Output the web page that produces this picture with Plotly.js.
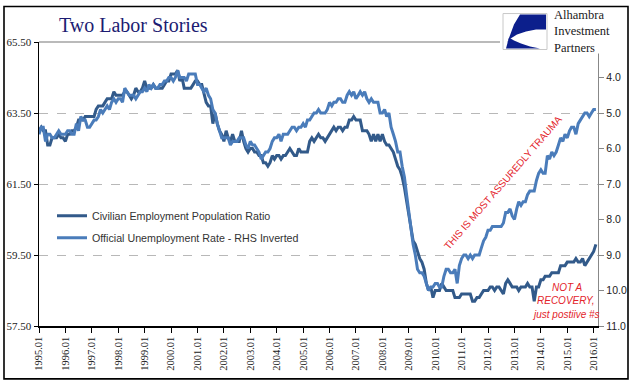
<!DOCTYPE html>
<html>
<head>
<meta charset="utf-8">
<script src="https://cdn.plot.ly/plotly-3.0.1.min.js"></script>
<style>
html,body{margin:0;padding:0;background:#fff;}
#chart{width:641px;height:392px;}
</style>
</head>
<body>
<div id="chart"></div>
<script>
// ---- data (monthly, Jan 1995 .. Feb 2016) ----
const startYear = 1995;
const seriesNames = ["Civilian Employment Population Ratio", "Official Unemployment Rate - RHS Inverted"];

// Civilian employment-population ratio (%), left axis
const empRatio = [
  63.0,63.1,63.0,63.0,62.6,62.6,62.8,62.8,62.8,62.9,62.8,62.8, // 1995
  62.7,62.9,62.9,63.0,63.0,63.1,63.3,63.3,63.3,63.4,63.4,63.4, // 1996
  63.4,63.4,63.6,63.7,63.7,63.7,63.8,63.9,63.9,63.9,64.1,64.0, // 1997
  64.0,64.0,64.0,64.1,64.1,64.0,63.9,64.0,64.2,64.1,64.1,64.2, // 1998
  64.4,64.2,64.2,64.2,64.3,64.2,64.2,64.2,64.2,64.3,64.4,64.4, // 1999
  64.6,64.6,64.6,64.7,64.4,64.5,64.2,64.2,64.2,64.2,64.3,64.4, // 2000
  64.4,64.3,64.3,64.0,63.8,63.7,63.7,63.2,63.5,63.2,63.0,62.9, // 2001
  62.7,63.0,62.8,62.7,62.9,62.7,62.7,62.7,63.0,62.7,62.5,62.4, // 2002
  62.5,62.5,62.4,62.4,62.3,62.3,62.1,62.1,62.0,62.1,62.3,62.2, // 2003
  62.3,62.3,62.2,62.3,62.3,62.4,62.5,62.4,62.3,62.3,62.5,62.4, // 2004
  62.4,62.4,62.4,62.7,62.8,62.7,62.8,62.9,62.8,62.8,62.7,62.8, // 2005
  62.9,63.0,63.1,63.0,63.1,63.1,63.0,63.1,63.1,63.3,63.3,63.4, // 2006
  63.3,63.3,63.3,63.0,63.0,63.0,62.9,62.7,62.9,62.7,62.9,62.7, // 2007
  62.9,62.7,62.6,62.6,62.5,62.4,62.2,62.0,61.9,61.7,61.4,61.0, // 2008
  60.6,60.3,59.9,59.8,59.6,59.4,59.3,59.1,58.7,58.5,58.6,58.3, // 2009
  58.5,58.5,58.5,58.7,58.6,58.5,58.5,58.5,58.5,58.3,58.3,58.3, // 2010
  58.4,58.4,58.4,58.4,58.4,58.2,58.2,58.3,58.3,58.4,58.5,58.5, // 2011
  58.5,58.6,58.6,58.5,58.6,58.6,58.5,58.4,58.7,58.8,58.7,58.6, // 2012
  58.6,58.6,58.5,58.6,58.6,58.6,58.7,58.6,58.6,58.2,58.6,58.6, // 2013
  58.8,58.8,58.9,58.9,58.9,59.0,59.0,59.0,59.0,59.2,59.2,59.2, // 2014
  59.3,59.3,59.3,59.3,59.4,59.3,59.3,59.4,59.2,59.3,59.4,59.5, // 2015
  59.6,59.8                                                    // 2016
];

// Official unemployment rate (%), right axis (inverted)
const unempRate = [
  5.6,5.4,5.4,5.8,5.6,5.6,5.7,5.7,5.6,5.5,5.6,5.6, // 1995
  5.6,5.5,5.5,5.6,5.6,5.3,5.5,5.1,5.2,5.2,5.4,5.4, // 1996
  5.3,5.2,5.2,5.1,4.9,5.0,4.9,4.8,4.9,4.7,4.6,4.7, // 1997
  4.6,4.6,4.7,4.3,4.4,4.5,4.5,4.5,4.6,4.5,4.4,4.4, // 1998
  4.3,4.4,4.2,4.3,4.2,4.3,4.3,4.2,4.2,4.1,4.1,4.0, // 1999
  4.0,4.1,4.0,3.8,4.0,4.0,4.0,4.1,3.9,3.9,3.9,3.9, // 2000
  4.2,4.2,4.3,4.4,4.3,4.5,4.6,4.9,5.0,5.3,5.5,5.7, // 2001
  5.7,5.7,5.7,5.9,5.8,5.8,5.8,5.7,5.7,5.7,5.9,6.0, // 2002
  5.8,5.9,5.9,6.0,6.1,6.3,6.2,6.1,6.1,6.0,5.8,5.7, // 2003
  5.7,5.6,5.8,5.6,5.6,5.6,5.5,5.4,5.4,5.5,5.4,5.4, // 2004
  5.3,5.4,5.2,5.2,5.1,5.0,5.0,4.9,5.0,5.0,5.0,4.9, // 2005
  4.7,4.8,4.7,4.7,4.6,4.6,4.7,4.7,4.5,4.4,4.5,4.4, // 2006
  4.6,4.5,4.4,4.5,4.4,4.6,4.7,4.6,4.7,4.7,4.7,5.0, // 2007
  5.0,4.9,5.1,5.0,5.4,5.6,5.8,6.1,6.1,6.5,6.8,7.3, // 2008
  7.8,8.3,8.7,9.0,9.4,9.5,9.5,9.6,9.8,10.0,9.9,9.9, // 2009
  9.8,9.8,9.9,9.9,9.6,9.4,9.4,9.5,9.5,9.4,9.8,9.3, // 2010
  9.1,9.0,9.0,9.1,9.0,9.1,9.0,9.0,9.0,8.8,8.6,8.5, // 2011
  8.3,8.3,8.2,8.2,8.2,8.2,8.2,8.1,7.8,7.8,7.7,7.9, // 2012
  8.0,7.7,7.5,7.6,7.5,7.5,7.3,7.2,7.2,7.2,6.9,6.7, // 2013
  6.6,6.7,6.7,6.2,6.3,6.1,6.2,6.1,5.9,5.7,5.8,5.6, // 2014
  5.7,5.5,5.4,5.4,5.6,5.3,5.2,5.1,5.0,5.0,5.1,5.0, // 2015
  4.9,4.9                                          // 2016
];

const leftTicks = [57.5, 59.5, 61.5, 63.5, 65.5];
const rightTicks = [4, 5, 6, 7, 8, 9, 10, 11];

const titleText = "Two Labor Stories";
const logoLines = ["Alhambra", "Investment", "Partners"];
const traumaText = "THIS IS MOST ASSUREDLY TRAUMA";
const recoveryLines = ["NOT A", "RECOVERY,", "just postiive #s"];

// month categories
const months = empRatio.map((_, i) => {
  const y = startYear + Math.floor(i / 12);
  const m = (i % 12) + 1;
  return y + "-" + (m < 10 ? "0" + m : m) + "-01";
});

// ---- layout helpers (pixel -> paper) ----
const W = 641, H = 392;
const L = 39, R = 598, T = 41.5, B = 326;
const px = x => (x - L) / (R - L);
const py = y => (B - y) / (B - T);
const P = (pts) => pts.map((p, i) => (i ? "L" : "M") + px(p[0]).toFixed(4) + "," + py(p[1]).toFixed(4)).join(" ") + " Z";

const darkBlue = "#325a8a";
const lightBlue = "#4a7cba";
const red = "#e3242b";
const navy = "#0c1f8c";
const redFont = "Liberation Sans, Arial, sans-serif";

const traces = [
  {
    x: months, y: empRatio, name: seriesNames[0], type: "scatter", mode: "lines",
    line: {color: darkBlue, width: 3}, yaxis: "y", legendgroup: "a"
  },
  {
    x: months, y: unempRate, name: seriesNames[1], type: "scatter", mode: "lines",
    line: {color: lightBlue, width: 3}, yaxis: "y2", legendgroup: "b"
  }
];

const layout = {
  width: W, height: H,
  margin: {l: L, r: W - R, t: T, b: H - B, pad: 0},
  paper_bgcolor: "#fff", plot_bgcolor: "rgba(0,0,0,0)",
  showlegend: true,
  title: {
    text: titleText, xref: "container", yref: "container",
    x: 59 / W, xanchor: "left", y: 1 - 25 / H, yanchor: "middle",
    font: {family: "Liberation Serif, Times New Roman, serif", size: 20, color: "#1c1c72"}
  },
  legend: {
    x: px(52), xanchor: "left", y: py(201), yanchor: "top",
    bgcolor: "rgba(0,0,0,0)", borderwidth: 0, tracegroupgap: 3,
    font: {family: "Liberation Sans, Arial, sans-serif", size: 10.7, color: "#333"}
  },
  xaxis: {
    type: "date", range: ["1995-01-01", "2016-03-01"],
    tick0: "1995-01-01", dtick: "M12", tickformat: "%Y.%m", tickangle: -90,
    ticks: "outside", ticklen: 5, tickcolor: "#000", tickwidth: 1,
    showline: true, linecolor: "#000", linewidth: 1.5,
    showgrid: false, zeroline: false,
    tickfont: {family: "Liberation Serif, Times New Roman, serif", size: 10.5, color: "#222"}
  },
  yaxis: {
    range: [57.5, 65.5], tickvals: leftTicks, tickformat: ".2f",
    ticks: "outside", ticklen: 4, tickcolor: "#000",
    showline: true, linecolor: "#000", linewidth: 1.5,
    showgrid: true, gridcolor: "#b8b8b8", griddash: "dash", gridwidth: 1,
    zeroline: false,
    tickfont: {family: "Liberation Serif, Times New Roman, serif", size: 11, color: "#222"}
  },
  yaxis2: {
    overlaying: "y", side: "right", range: [11, 3], tickvals: rightTicks, tickformat: ".1f",
    ticks: "outside", ticklen: 5, tickcolor: "#888",
    showline: true, linecolor: "#888", linewidth: 1.2,
    showgrid: false, zeroline: false,
    tickfont: {family: "Liberation Sans, Arial, sans-serif", size: 10.5, color: "#222"}
  },
  shapes: [
    // outer frame
    {type: "rect", xref: "paper", yref: "paper", x0: px(4), x1: px(628), y0: py(379), y1: py(6),
      line: {color: "#000", width: 1.6}, fillcolor: "rgba(0,0,0,0)", layer: "above"},
    // solid top line at 65.50
    {type: "line", xref: "paper", yref: "paper", x0: 0, x1: px(500), y0: 1, y1: 1,
      line: {color: "#777", width: 1.2}, layer: "above"},
    // white patch behind logo
    {type: "rect", xref: "paper", yref: "paper", x0: px(500), x1: px(626), y0: py(53), y1: py(8),
      line: {width: 0}, fillcolor: "#fff", layer: "above"},
    // logo box
    {type: "rect", xref: "paper", yref: "paper", x0: px(503), x1: px(547), y0: py(49), y1: py(13),
      line: {color: "#c8c8c8", width: 1}, fillcolor: "#fff", layer: "above"},
    // logo upper navy shape
    {type: "path", xref: "paper", yref: "paper", layer: "above", line: {width: 0}, fillcolor: navy,
      path: P([[520,14],[546,14],[546,29],[536,29],[526,31],[517,34],[509,39],[507,43],[514,24]])},
    // logo lower navy shape
    {type: "path", xref: "paper", yref: "paper", layer: "above", line: {width: 0}, fillcolor: navy,
      path: P([[506,48],[540,48],[530,46],[521,43],[514,40],[509,37]])}
  ],
  annotations: [
    {xref: "paper", yref: "paper", x: px(552), y: py(31), xanchor: "left", yanchor: "middle", align: "left",
      text: logoLines.join("<br>"), showarrow: false,
      font: {family: "Liberation Serif, Times New Roman, serif", size: 12.5, color: "#1a1a1a"}},
    {xref: "paper", yref: "paper", x: px(503), y: py(182), xanchor: "center", yanchor: "middle",
      text: traumaText, showarrow: false, textangle: -49,
      font: {family: redFont, size: 10, color: red}},
    {xref: "paper", yref: "paper", x: px(567), y: py(287), xanchor: "center", yanchor: "middle",
      text: "<i>" + recoveryLines[0] + "</i>", showarrow: false,
      font: {family: redFont, size: 10, color: red}},
    {xref: "paper", yref: "paper", x: px(566), y: py(300.5), xanchor: "center", yanchor: "middle",
      text: "<i>" + recoveryLines[1] + "</i>", showarrow: false,
      font: {family: redFont, size: 10, color: red}},
    {xref: "paper", yref: "paper", x: px(566), y: py(314), xanchor: "center", yanchor: "middle",
      text: "<i>" + recoveryLines[2] + "</i>", showarrow: false,
      font: {family: redFont, size: 10, color: red}}
  ]
};

Plotly.newPlot("chart", traces, layout, {staticPlot: true, displayModeBar: false});
</script>
</body>
</html>
